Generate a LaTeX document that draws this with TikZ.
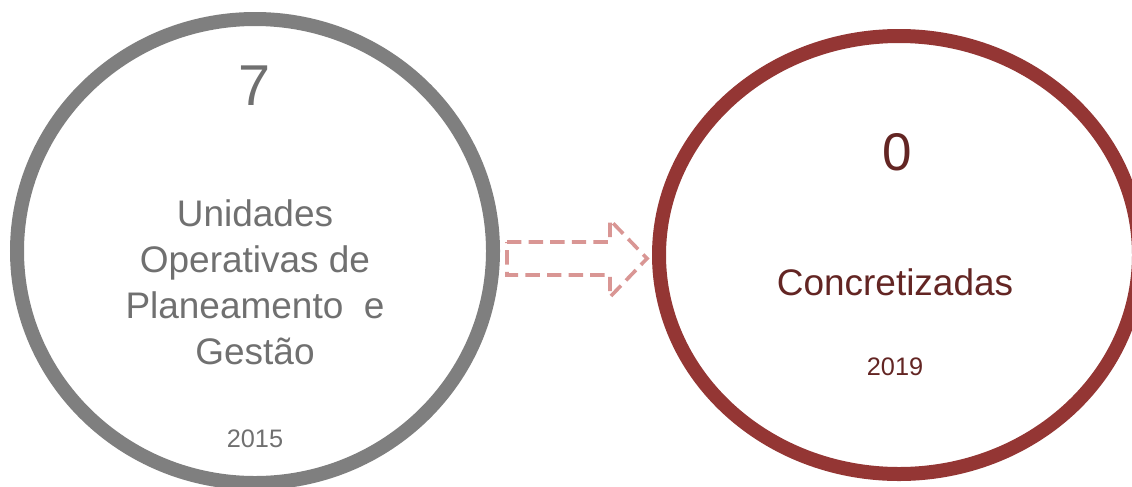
\documentclass[tikz,border=0pt]{standalone}
\usepackage{fontspec}
\setmainfont{Liberation Sans}
\usetikzlibrary{shapes.geometric}

\definecolor{ringgray}{HTML}{7F7F7F}
\definecolor{txtgray}{HTML}{707070}
\definecolor{ringred}{HTML}{943634}
\definecolor{txtred}{HTML}{632523}
\definecolor{arrowpink}{HTML}{D99694}

\begin{document}
\begin{tikzpicture}[
    ring/.style={ellipse, draw, line width=0.35cm, inner sep=0pt},
    num/.style={anchor=base, inner sep=0pt},
    lbl/.style={anchor=base, inner sep=0pt, align=center,
                font=\fontsize{26.3}{32.7}\selectfont},
    yr/.style={anchor=base, inner sep=0pt, font=\fontsize{18}{21}\selectfont},
    flow/.style={draw=arrowpink, line width=0.09cm,
                 dash pattern=on 0.36cm off 0.18cm}
  ]
  \useasboundingbox (0,0) rectangle (28.3,-12.15);

  % Circles
  \node[ring, draw=ringgray, minimum width=11.9cm, minimum height=11.6cm]
    (uopg) at (6.375,-6.275) {};
  \node[ring, draw=ringred, minimum width=12.0cm, minimum height=10.95cm]
    (conc) at (22.475,-6.375) {};

  % Left circle: 2015
  \node[num, text=txtgray, font=\fontsize{41}{49}\selectfont] (n7) at (6.375,-2.625) {7};
  \node[lbl, text=txtgray] (units) at (6.375,-9.1)
    {Unidades\\Operativas de\\Planeamento~ e\\Gestão};
  \node[yr, text=txtgray] (y2015) at (6.375,-11.175) {2015};

  % Right circle: 2019
  \node[num, text=txtred, font=\fontsize{37.7}{45}\selectfont] (n0) at (22.425,-4.25) {0};
  \node[lbl, text=txtred] (done) at (22.375,-7.375) {Concretizadas};
  \node[yr, text=txtred] (y2019) at (22.375,-9.375) {2019};

  % Arrow
  \coordinate (tail) at (12.675,-6.4625);
  \draw[flow] (tail) ++(0,0.4125) -- ++(2.575,0) -- ++(0,0.55)
    -- ++(0.925,-0.9625) -- ++(-0.925,-0.9625) -- ++(0,0.55)
    -- ++(-2.575,0) -- cycle;
\end{tikzpicture}
\end{document}
